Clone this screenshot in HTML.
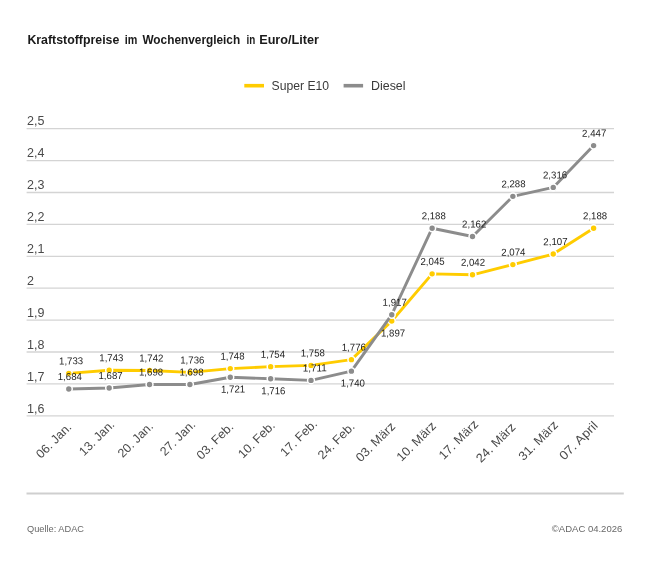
<!DOCTYPE html>
<html><head><meta charset="utf-8"><title>Kraftstoffpreise</title>
<style>
html,body{margin:0;padding:0;background:#fff;}
body{width:650px;height:588px;overflow:hidden;font-family:"Liberation Sans",sans-serif;}
svg{display:block;will-change:transform;font-family:"Liberation Sans",sans-serif;}
.title{font-size:13px;font-weight:bold;fill:#1a1a1a;}
.leg{font-size:12.3px;fill:#3a3a3a;}
.yl{font-size:12.5px;fill:#4a4a4a;}
.xl{font-size:12.4px;fill:#4a4a4a;}
.dl{font-size:10px;fill:#1e1e1e;text-anchor:middle;}
.ft{font-size:9.8px;fill:#686868;}
</style></head><body>
<svg width="650" height="588" viewBox="0 0 650 588">
<rect width="650" height="588" fill="#fff"/>
<text class="title" x="27.4" y="44.0" textLength="91.9" lengthAdjust="spacingAndGlyphs">Kraftstoffpreise</text>
<text class="title" x="124.7" y="44.0" textLength="12.6" lengthAdjust="spacingAndGlyphs">im</text>
<text class="title" x="142.4" y="44.0" textLength="97.8" lengthAdjust="spacingAndGlyphs">Wochenvergleich</text>
<text class="title" x="246.4" y="44.0" textLength="8.8" lengthAdjust="spacingAndGlyphs">in</text>
<text class="title" x="259.2" y="44.0" textLength="59.8" lengthAdjust="spacingAndGlyphs">Euro/Liter</text>
<line x1="244.3" x2="264" y1="85.7" y2="85.7" stroke="#FFCC00" stroke-width="3.6"/>
<text class="leg" x="271.5" y="89.9" textLength="57.6" lengthAdjust="spacingAndGlyphs">Super E10</text>
<line x1="343.6" x2="363.1" y1="85.7" y2="85.7" stroke="#8C8C8C" stroke-width="3.6"/>
<text class="leg" x="371" y="89.9" textLength="34.5" lengthAdjust="spacingAndGlyphs">Diesel</text>
<line x1="26.6" x2="614" y1="128.70" y2="128.70" stroke="#d4d4d4" stroke-width="1.3"/>
<text class="yl" x="27" y="125.40">2,5</text>
<line x1="26.6" x2="614" y1="160.60" y2="160.60" stroke="#d4d4d4" stroke-width="1.3"/>
<text class="yl" x="27" y="157.30">2,4</text>
<line x1="26.6" x2="614" y1="192.50" y2="192.50" stroke="#d4d4d4" stroke-width="1.3"/>
<text class="yl" x="27" y="189.20">2,3</text>
<line x1="26.6" x2="614" y1="224.40" y2="224.40" stroke="#d4d4d4" stroke-width="1.3"/>
<text class="yl" x="27" y="221.10">2,2</text>
<line x1="26.6" x2="614" y1="256.30" y2="256.30" stroke="#d4d4d4" stroke-width="1.3"/>
<text class="yl" x="27" y="253.00">2,1</text>
<line x1="26.6" x2="614" y1="288.20" y2="288.20" stroke="#d4d4d4" stroke-width="1.3"/>
<text class="yl" x="27" y="284.90">2</text>
<line x1="26.6" x2="614" y1="320.10" y2="320.10" stroke="#d4d4d4" stroke-width="1.3"/>
<text class="yl" x="27" y="316.80">1,9</text>
<line x1="26.6" x2="614" y1="352.00" y2="352.00" stroke="#d4d4d4" stroke-width="1.3"/>
<text class="yl" x="27" y="348.70">1,8</text>
<line x1="26.6" x2="614" y1="383.90" y2="383.90" stroke="#d4d4d4" stroke-width="1.3"/>
<text class="yl" x="27" y="380.60">1,7</text>
<line x1="26.6" x2="614" y1="415.80" y2="415.80" stroke="#d4d4d4" stroke-width="1.3"/>
<text class="yl" x="27" y="412.50">1,6</text>
<text class="xl" text-anchor="end" textLength="44.1" lengthAdjust="spacingAndGlyphs" transform="translate(72.30,427.90) rotate(-45)">06. Jan.</text>
<text class="xl" text-anchor="end" textLength="44.1" lengthAdjust="spacingAndGlyphs" transform="translate(115.27,425.30) rotate(-45)">13. Jan.</text>
<text class="xl" text-anchor="end" textLength="44.1" lengthAdjust="spacingAndGlyphs" transform="translate(153.84,427.10) rotate(-45)">20. Jan.</text>
<text class="xl" text-anchor="end" textLength="44.1" lengthAdjust="spacingAndGlyphs" transform="translate(196.11,425.20) rotate(-45)">27. Jan.</text>
<text class="xl" text-anchor="end" textLength="46.2" lengthAdjust="spacingAndGlyphs" transform="translate(234.18,427.50) rotate(-45)">03. Feb.</text>
<text class="xl" text-anchor="end" textLength="46.2" lengthAdjust="spacingAndGlyphs" transform="translate(275.65,426.40) rotate(-45)">10. Feb.</text>
<text class="xl" text-anchor="end" textLength="46.2" lengthAdjust="spacingAndGlyphs" transform="translate(317.92,424.50) rotate(-45)">17. Feb.</text>
<text class="xl" text-anchor="end" textLength="46.2" lengthAdjust="spacingAndGlyphs" transform="translate(355.39,427.40) rotate(-45)">24. Feb.</text>
<text class="xl" text-anchor="end" textLength="50.0" lengthAdjust="spacingAndGlyphs" transform="translate(396.01,427.15) rotate(-45)">03. März</text>
<text class="xl" text-anchor="end" textLength="50.0" lengthAdjust="spacingAndGlyphs" transform="translate(436.83,426.70) rotate(-45)">10. März</text>
<text class="xl" text-anchor="end" textLength="50.0" lengthAdjust="spacingAndGlyphs" transform="translate(479.00,424.90) rotate(-45)">17. März</text>
<text class="xl" text-anchor="end" textLength="50.0" lengthAdjust="spacingAndGlyphs" transform="translate(516.37,427.90) rotate(-45)">24. März</text>
<text class="xl" text-anchor="end" textLength="50.0" lengthAdjust="spacingAndGlyphs" transform="translate(558.84,425.80) rotate(-45)">31. März</text>
<text class="xl" text-anchor="end" textLength="48.6" lengthAdjust="spacingAndGlyphs" transform="translate(598.61,426.40) rotate(-45)">07. April</text>
<polyline points="68.80,373.37 109.17,370.18 149.54,370.50 189.91,372.42 230.28,368.59 270.65,366.67 311.02,365.40 351.39,359.66 391.76,321.06 432.13,273.85 472.50,274.80 512.87,264.59 553.24,254.07 593.61,228.23" fill="none" stroke="#FFCC00" stroke-width="2.9" stroke-linejoin="round" stroke-linecap="round"/>
<circle cx="68.80" cy="373.37" r="3.45" fill="#FFCC00" stroke="#fff" stroke-width="1.5"/>
<circle cx="109.17" cy="370.18" r="3.45" fill="#FFCC00" stroke="#fff" stroke-width="1.5"/>
<circle cx="149.54" cy="370.50" r="3.45" fill="#FFCC00" stroke="#fff" stroke-width="1.5"/>
<circle cx="189.91" cy="372.42" r="3.45" fill="#FFCC00" stroke="#fff" stroke-width="1.5"/>
<circle cx="230.28" cy="368.59" r="3.45" fill="#FFCC00" stroke="#fff" stroke-width="1.5"/>
<circle cx="270.65" cy="366.67" r="3.45" fill="#FFCC00" stroke="#fff" stroke-width="1.5"/>
<circle cx="311.02" cy="365.40" r="3.45" fill="#FFCC00" stroke="#fff" stroke-width="1.5"/>
<circle cx="351.39" cy="359.66" r="3.45" fill="#FFCC00" stroke="#fff" stroke-width="1.5"/>
<circle cx="391.76" cy="321.06" r="3.45" fill="#FFCC00" stroke="#fff" stroke-width="1.5"/>
<circle cx="432.13" cy="273.85" r="3.45" fill="#FFCC00" stroke="#fff" stroke-width="1.5"/>
<circle cx="472.50" cy="274.80" r="3.45" fill="#FFCC00" stroke="#fff" stroke-width="1.5"/>
<circle cx="512.87" cy="264.59" r="3.45" fill="#FFCC00" stroke="#fff" stroke-width="1.5"/>
<circle cx="553.24" cy="254.07" r="3.45" fill="#FFCC00" stroke="#fff" stroke-width="1.5"/>
<circle cx="593.61" cy="228.23" r="3.45" fill="#FFCC00" stroke="#fff" stroke-width="1.5"/>
<polyline points="68.80,389.00 109.17,388.05 149.54,384.54 189.91,384.54 230.28,377.20 270.65,378.80 311.02,380.39 351.39,371.14 391.76,314.68 432.13,228.23 472.50,236.52 512.87,196.33 553.24,187.40 593.61,145.61" fill="none" stroke="#8C8C8C" stroke-width="2.9" stroke-linejoin="round" stroke-linecap="round"/>
<circle cx="68.80" cy="389.00" r="3.45" fill="#8C8C8C" stroke="#fff" stroke-width="1.5"/>
<circle cx="109.17" cy="388.05" r="3.45" fill="#8C8C8C" stroke="#fff" stroke-width="1.5"/>
<circle cx="149.54" cy="384.54" r="3.45" fill="#8C8C8C" stroke="#fff" stroke-width="1.5"/>
<circle cx="189.91" cy="384.54" r="3.45" fill="#8C8C8C" stroke="#fff" stroke-width="1.5"/>
<circle cx="230.28" cy="377.20" r="3.45" fill="#8C8C8C" stroke="#fff" stroke-width="1.5"/>
<circle cx="270.65" cy="378.80" r="3.45" fill="#8C8C8C" stroke="#fff" stroke-width="1.5"/>
<circle cx="311.02" cy="380.39" r="3.45" fill="#8C8C8C" stroke="#fff" stroke-width="1.5"/>
<circle cx="351.39" cy="371.14" r="3.45" fill="#8C8C8C" stroke="#fff" stroke-width="1.5"/>
<circle cx="391.76" cy="314.68" r="3.45" fill="#8C8C8C" stroke="#fff" stroke-width="1.5"/>
<circle cx="432.13" cy="228.23" r="3.45" fill="#8C8C8C" stroke="#fff" stroke-width="1.5"/>
<circle cx="472.50" cy="236.52" r="3.45" fill="#8C8C8C" stroke="#fff" stroke-width="1.5"/>
<circle cx="512.87" cy="196.33" r="3.45" fill="#8C8C8C" stroke="#fff" stroke-width="1.5"/>
<circle cx="553.24" cy="187.40" r="3.45" fill="#8C8C8C" stroke="#fff" stroke-width="1.5"/>
<circle cx="593.61" cy="145.61" r="3.45" fill="#8C8C8C" stroke="#fff" stroke-width="1.5"/>
<text class="dl" transform="translate(71.10,364.37) rotate(-0.3)" textLength="24.2" lengthAdjust="spacingAndGlyphs">1,733</text>
<text class="dl" transform="translate(111.37,361.18) rotate(-0.3)" textLength="24.2" lengthAdjust="spacingAndGlyphs">1,743</text>
<text class="dl" transform="translate(151.34,361.50) rotate(-0.3)" textLength="24.2" lengthAdjust="spacingAndGlyphs">1,742</text>
<text class="dl" transform="translate(192.31,363.42) rotate(-0.3)" textLength="24.2" lengthAdjust="spacingAndGlyphs">1,736</text>
<text class="dl" transform="translate(232.48,359.59) rotate(-0.3)" textLength="24.2" lengthAdjust="spacingAndGlyphs">1,748</text>
<text class="dl" transform="translate(272.95,357.67) rotate(-0.3)" textLength="24.2" lengthAdjust="spacingAndGlyphs">1,754</text>
<text class="dl" transform="translate(312.82,356.40) rotate(-0.3)" textLength="24.2" lengthAdjust="spacingAndGlyphs">1,758</text>
<text class="dl" transform="translate(353.79,350.66) rotate(-0.3)" textLength="24.2" lengthAdjust="spacingAndGlyphs">1,776</text>
<text class="dl" transform="translate(393.06,336.46) rotate(-0.3)" textLength="24.2" lengthAdjust="spacingAndGlyphs">1,897</text>
<text class="dl" transform="translate(432.53,264.85) rotate(-0.3)" textLength="24.2" lengthAdjust="spacingAndGlyphs">2,045</text>
<text class="dl" transform="translate(473.00,265.80) rotate(-0.3)" textLength="24.2" lengthAdjust="spacingAndGlyphs">2,042</text>
<text class="dl" transform="translate(513.37,255.59) rotate(-0.3)" textLength="24.2" lengthAdjust="spacingAndGlyphs">2,074</text>
<text class="dl" transform="translate(555.44,245.07) rotate(-0.3)" textLength="24.2" lengthAdjust="spacingAndGlyphs">2,107</text>
<text class="dl" transform="translate(595.11,219.23) rotate(-0.3)" textLength="24.2" lengthAdjust="spacingAndGlyphs">2,188</text>
<text class="dl" transform="translate(69.80,380.00) rotate(-0.3)" textLength="24.2" lengthAdjust="spacingAndGlyphs">1,684</text>
<text class="dl" transform="translate(110.57,379.05) rotate(-0.3)" textLength="24.2" lengthAdjust="spacingAndGlyphs">1,687</text>
<text class="dl" transform="translate(151.04,375.54) rotate(-0.3)" textLength="24.2" lengthAdjust="spacingAndGlyphs">1,698</text>
<text class="dl" transform="translate(191.51,375.54) rotate(-0.3)" textLength="24.2" lengthAdjust="spacingAndGlyphs">1,698</text>
<text class="dl" transform="translate(233.08,392.60) rotate(-0.3)" textLength="24.2" lengthAdjust="spacingAndGlyphs">1,721</text>
<text class="dl" transform="translate(273.35,394.20) rotate(-0.3)" textLength="24.2" lengthAdjust="spacingAndGlyphs">1,716</text>
<text class="dl" transform="translate(314.72,371.39) rotate(-0.3)" textLength="24.2" lengthAdjust="spacingAndGlyphs">1,711</text>
<text class="dl" transform="translate(352.89,386.54) rotate(-0.3)" textLength="24.2" lengthAdjust="spacingAndGlyphs">1,740</text>
<text class="dl" transform="translate(394.66,305.68) rotate(-0.3)" textLength="24.2" lengthAdjust="spacingAndGlyphs">1,917</text>
<text class="dl" transform="translate(433.73,219.23) rotate(-0.3)" textLength="24.2" lengthAdjust="spacingAndGlyphs">2,188</text>
<text class="dl" transform="translate(474.20,227.52) rotate(-0.3)" textLength="24.2" lengthAdjust="spacingAndGlyphs">2,162</text>
<text class="dl" transform="translate(513.47,187.33) rotate(-0.3)" textLength="24.2" lengthAdjust="spacingAndGlyphs">2,288</text>
<text class="dl" transform="translate(555.04,178.40) rotate(-0.3)" textLength="24.2" lengthAdjust="spacingAndGlyphs">2,316</text>
<text class="dl" transform="translate(594.21,136.61) rotate(-0.3)" textLength="24.2" lengthAdjust="spacingAndGlyphs">2,447</text>
<line x1="26.5" x2="623.8" y1="493.5" y2="493.5" stroke="#cfcfcf" stroke-width="2"/>
<text class="ft" x="27" y="531.5" textLength="57" lengthAdjust="spacingAndGlyphs">Quelle: ADAC</text>
<text class="ft" x="551.8" y="531.5" textLength="70.5" lengthAdjust="spacingAndGlyphs">©ADAC 04.2026</text>
</svg></body></html>
